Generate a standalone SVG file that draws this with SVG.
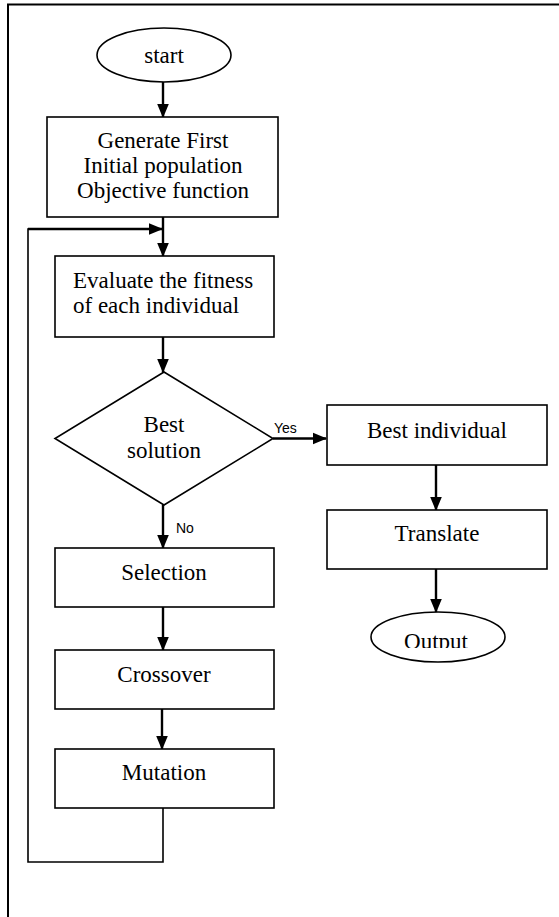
<svg xmlns="http://www.w3.org/2000/svg" width="559" height="917" viewBox="0 0 559 917">
<style>
.shape{fill:#fff;stroke:#000;stroke-width:1.6}
.t{font-family:"Liberation Serif","Times New Roman",serif;font-size:23px;fill:#000;text-anchor:middle}
.lbl{font-family:"Liberation Sans",Arial,sans-serif;font-size:14px;fill:#000}
.arrow{fill:none;stroke:#000;stroke-width:2.4;marker-end:url(#ah)}
.loop{fill:none;stroke:#000;stroke-width:1.6}
</style>
<defs>
<marker id="ah" markerWidth="6" markerHeight="6" refX="5.6" refY="2.5" orient="auto" markerUnits="strokeWidth" viewBox="0 0 6 5">
<path d="M0,0 L6,2.5 L0,5 Z" fill="#000"/>
</marker>
<clipPath id="outclip"><rect x="360" y="600" width="160" height="48"/></clipPath>
</defs>
<rect width="559" height="917" fill="#fff"/>
<path d="M8,917 V4.5 H559" fill="none" stroke="#000" stroke-width="2"/>

<g id="connectors">
<line class="arrow" x1="163" y1="82" x2="163" y2="117"/>
<line class="arrow" x1="163" y1="217" x2="163" y2="256"/>
<path class="loop" d="M163,808 V862 H28 V229 H148"/>
<line class="arrow" x1="28" y1="229" x2="162" y2="229"/>
<line class="arrow" x1="163" y1="337" x2="163" y2="372"/>
<line class="arrow" x1="273" y1="438.5" x2="326" y2="438.5"/>
<text class="lbl" x="274" y="433">Yes</text>
<line class="arrow" x1="163" y1="505" x2="163" y2="548"/>
<text class="lbl" x="176" y="533">No</text>
<line class="arrow" x1="163" y1="607" x2="163" y2="650"/>
<line class="arrow" x1="162" y1="709" x2="162" y2="749"/>
<line class="arrow" x1="436" y1="465" x2="436" y2="510"/>
<line class="arrow" x1="436" y1="569" x2="436" y2="612"/>
</g>

<g id="start">
<ellipse class="shape" cx="164" cy="55" rx="67" ry="27"/>
<text class="t" x="164" y="63">start</text>
</g>

<g id="generate">
<rect class="shape" x="47" y="117" width="231" height="100"/>
<text class="t" x="163" y="148">Generate First</text>
<text class="t" x="163" y="173">Initial population</text>
<text class="t" x="163" y="198">Objective function</text>
</g>

<g id="evaluate">
<rect class="shape" x="55" y="256" width="219" height="81"/>
<text class="t" x="73" y="288" style="text-anchor:start">Evaluate the fitness</text>
<text class="t" x="73" y="313" style="text-anchor:start">of each individual</text>
</g>

<g id="decision">
<polygon class="shape" points="164,372 273,438.5 164,505 55,438.5"/>
<text class="t" x="164" y="432">Best</text>
<text class="t" x="164" y="458">solution</text>
</g>

<g id="best-individual">
<rect class="shape" x="327" y="405" width="220" height="60"/>
<text class="t" x="437" y="438">Best individual</text>
</g>

<g id="translate">
<rect class="shape" x="327" y="510" width="220" height="59"/>
<text class="t" x="437" y="541">Translate</text>
</g>

<g id="output">
<ellipse class="shape" cx="438" cy="637" rx="67" ry="25"/>
<text class="t" x="436" y="649" clip-path="url(#outclip)">Output</text>
</g>

<g id="selection">
<rect class="shape" x="55" y="548" width="219" height="59"/>
<text class="t" x="164" y="580">Selection</text>
</g>

<g id="crossover">
<rect class="shape" x="55" y="650" width="219" height="59"/>
<text class="t" x="164" y="682">Crossover</text>
</g>

<g id="mutation">
<rect class="shape" x="55" y="749" width="219" height="59"/>
<text class="t" x="164" y="780">Mutation</text>
</g>
</svg>
